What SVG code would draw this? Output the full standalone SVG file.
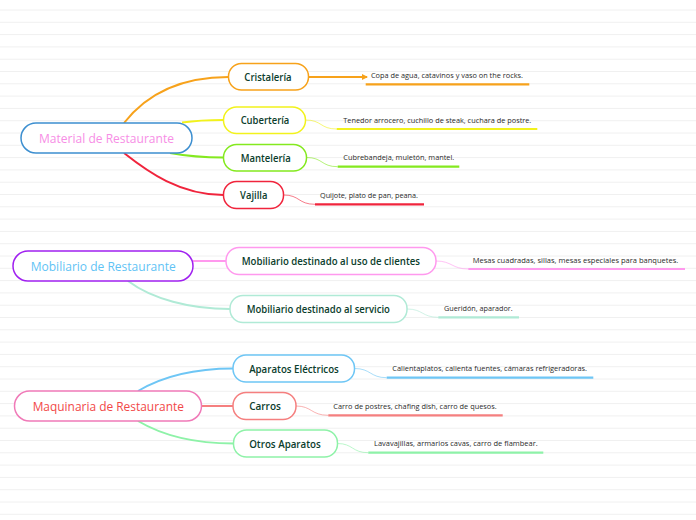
<svg xmlns="http://www.w3.org/2000/svg" width="696" height="520" viewBox="0 0 696 520">
<style>
.bg{stroke:#f0f0f0;stroke-width:1;fill:none}
.main{fill:#fff;stroke-width:1.5}
.sub{fill:#fff;stroke-width:1.5}
.mt{font-family:"Open Sans","Noto Sans",sans-serif;font-size:13px;font-weight:500;text-anchor:middle}
.st{font-family:"Open Sans","Noto Sans",sans-serif;font-size:11px;font-weight:600;text-anchor:middle;fill:#0b3d2c}
.dt{font-family:"Open Sans","Noto Sans",sans-serif;font-size:7px;fill:#2a2a2a}
.c{fill:none;stroke-width:2}
.thin{fill:none;stroke-width:1;opacity:0.6}
.ul{fill:none;stroke-width:2.2}
</style>
<defs>
<marker id="arr" markerWidth="6" markerHeight="6" refX="5" refY="3" orient="auto" markerUnits="userSpaceOnUse">
<path d="M0,0 L6,3 L0,6 Z" fill="#f7a21b"/>
</marker>
</defs>
<rect width="696" height="520" fill="#fff"/>
<path class="bg" d="M0,10H696M0,22.3H696M0,34.6H696M0,46.9H696M0,59.2H696M0,71.5H696M0,83.8H696M0,96.1H696M0,108.4H696M0,120.7H696M0,133H696M0,145.3H696M0,157.6H696M0,169.9H696M0,182.2H696M0,194.5H696M0,206.8H696M0,219.1H696M0,231.4H696M0,243.7H696M0,256H696M0,268.3H696M0,280.6H696M0,292.9H696M0,305.2H696M0,317.5H696M0,329.8H696M0,342.1H696M0,354.4H696M0,366.7H696M0,379H696M0,391.3H696M0,403.6H696M0,415.9H696M0,428.2H696M0,440.5H696M0,452.8H696M0,465.1H696M0,477.4H696M0,489.7H696M0,502H696M0,514.3H696"/>
<g id="connectors">
<path class="c" stroke="#f7a21b" d="M124,123 Q160,77 228.5,77"/>
<path class="c" stroke="#f2f21c" d="M182,122.5 Q200,120 223.5,120"/>
<path class="c" stroke="#84e91f" d="M170,153 Q195,157.5 223.5,157.5"/>
<path class="c" stroke="#f0243c" d="M124,153 C148,172 180,195 223.5,195"/>
<path class="c" stroke="#f7a21b" d="M308.5,77 H367" marker-end="url(#arr)"/>
<path class="ul" stroke="#f7a21b" d="M365.7,84.3 H529.3"/>
<path class="thin" stroke="#f2f21c" d="M305.5,120 C322,120 320,129 336.7,129"/>
<path class="ul" stroke="#f2f21c" d="M336.7,129 H537.3"/>
<path class="thin" stroke="#84e91f" d="M306.5,157.5 C323,157.5 321,166.7 337.7,166.7"/>
<path class="ul" stroke="#84e91f" d="M337.7,166.7 H459.3"/>
<path class="thin" stroke="#f0243c" d="M283.5,195 C300,195 298,204.3 315,204.3"/>
<path class="ul" stroke="#f0243c" d="M315,204.3 H424"/>
<path class="c" stroke="#ff99ee" d="M193,261 H226"/>
<path class="c" stroke="#b0ead6" d="M128,281 C152,299 190,309 230,309"/>
<path class="thin" stroke="#ff99ee" d="M436,261 C452,261 452,269 468.3,269"/>
<path class="ul" stroke="#ff99ee" d="M468.3,269 H685"/>
<path class="thin" stroke="#b0ead6" d="M407,309 C423,309 422,317.3 438.3,317.3"/>
<path class="ul" stroke="#b0ead6" d="M438.3,317.3 H519"/>
<path class="c" stroke="#6ec6f5" d="M138,391 C165,375 195,368.5 233,368.5"/>
<path class="c" stroke="#f57f7f" d="M201.5,406 H233"/>
<path class="c" stroke="#8ef2a8" d="M138,421 C165,437 195,443.5 233.5,443.5"/>
<path class="thin" stroke="#6ec6f5" d="M354.5,368.5 C371,368.5 370,377.7 386.7,377.7"/>
<path class="ul" stroke="#6ec6f5" d="M386.7,377.7 H593.3"/>
<path class="thin" stroke="#f57f7f" d="M296,406 C312,406 311,415.3 328.3,415.3"/>
<path class="ul" stroke="#f57f7f" d="M328.3,415.3 H502.7"/>
<path class="thin" stroke="#8ef2a8" d="M337.5,443.5 C353,443.5 352,452.7 368.3,452.7"/>
<path class="ul" stroke="#8ef2a8" d="M368.3,452.7 H543.3"/>
</g>
<g id="material">
<rect class="main" x="21" y="123" width="171" height="30" rx="15" stroke="#3d8fd0"/>
<text class="mt" x="106.5" y="142.8" fill="#f78ee6" textLength="135" lengthAdjust="spacingAndGlyphs">Material de Restaurante</text>
</g>
<g id="cristaleria">
<rect class="sub" x="228.5" y="63.5" width="80" height="26.5" rx="13" stroke="#f7a21b"/>
<text class="st" x="268" y="81" textLength="47.3" lengthAdjust="spacingAndGlyphs">Cristalería</text>
</g>
<g id="cuberteria">
<rect class="sub" x="223.5" y="107" width="82" height="26.5" rx="13" stroke="#f2f21c"/>
<text class="st" x="265" y="124" textLength="48.7" lengthAdjust="spacingAndGlyphs">Cubertería</text>
</g>
<g id="manteleria">
<rect class="sub" x="223.5" y="144.5" width="83" height="26.5" rx="13" stroke="#84e91f"/>
<text class="st" x="265.7" y="161.5" textLength="50" lengthAdjust="spacingAndGlyphs">Mantelería</text>
</g>
<g id="vajilla">
<rect class="sub" x="223.5" y="181.5" width="60" height="27" rx="13" stroke="#f0243c"/>
<text class="st" x="253.7" y="199" fill="#111" textLength="27.3" lengthAdjust="spacingAndGlyphs">Vajilla</text>
</g>
<g id="d-cristaleria"><text class="dt" x="371" y="78" textLength="152" lengthAdjust="spacingAndGlyphs">Copa de agua, catavinos y vaso on the rocks.</text></g>
<g id="d-cuberteria"><text class="dt" x="343.3" y="123" textLength="188" lengthAdjust="spacingAndGlyphs">Tenedor arrocero, cuchillo de steak, cuchara de postre.</text></g>
<g id="d-manteleria"><text class="dt" x="343.3" y="160.3" textLength="111" lengthAdjust="spacingAndGlyphs">Cubrebandeja, muletón, mantel.</text></g>
<g id="d-vajilla"><text class="dt" x="320" y="198" textLength="98" lengthAdjust="spacingAndGlyphs">Quijote, plato de pan, peana.</text></g>
<g id="mobiliario">
<rect class="main" x="13" y="251" width="180" height="30" rx="15" stroke="#a020f0"/>
<text class="mt" x="103.2" y="270.5" fill="#5fc3f5" textLength="145" lengthAdjust="spacingAndGlyphs">Mobiliario de Restaurante</text>
</g>
<g id="clientes">
<rect class="sub" x="226" y="247.5" width="210" height="27" rx="13" stroke="#ff99ee"/>
<text class="st" x="330.8" y="265" textLength="178.3" lengthAdjust="spacingAndGlyphs">Mobiliario destinado al uso de clientes</text>
</g>
<g id="servicio">
<rect class="sub" x="230" y="295.5" width="177" height="27" rx="13" stroke="#b0ead6"/>
<text class="st" x="318.3" y="313" textLength="143.3" lengthAdjust="spacingAndGlyphs">Mobiliario destinado al servicio</text>
</g>
<g id="d-clientes"><text class="dt" x="472.7" y="262.5" textLength="205.6" lengthAdjust="spacingAndGlyphs">Mesas cuadradas, sillas, mesas especiales para banquetes.</text></g>
<g id="d-servicio"><text class="dt" x="444" y="311" textLength="68.7" lengthAdjust="spacingAndGlyphs">Gueridón, aparador.</text></g>
<g id="maquinaria">
<rect class="main" x="14.5" y="391" width="187" height="30" rx="15" stroke="#f07ab8"/>
<text class="mt" x="108.3" y="410.5" fill="#f24848" textLength="151.3" lengthAdjust="spacingAndGlyphs">Maquinaria de Restaurante</text>
</g>
<g id="electricos">
<rect class="sub" x="233" y="355" width="121.5" height="27" rx="13" stroke="#6ec6f5"/>
<text class="st" x="294" y="372.5" textLength="89.7" lengthAdjust="spacingAndGlyphs">Aparatos Eléctricos</text>
</g>
<g id="carros">
<rect class="sub" x="233" y="392.5" width="63" height="27" rx="13" stroke="#f57f7f"/>
<text class="st" x="265" y="410" textLength="31.7" lengthAdjust="spacingAndGlyphs">Carros</text>
</g>
<g id="otros">
<rect class="sub" x="233.5" y="430" width="104" height="27" rx="13" stroke="#8ef2a8"/>
<text class="st" x="285" y="447.5" textLength="71.7" lengthAdjust="spacingAndGlyphs">Otros Aparatos</text>
</g>
<g id="d-electricos"><text class="dt" x="392.3" y="371.3" textLength="194.7" lengthAdjust="spacingAndGlyphs">Calientaplatos, calienta fuentes, cámaras refrigeradoras.</text></g>
<g id="d-carros"><text class="dt" x="333.3" y="408.5" textLength="163.4" lengthAdjust="spacingAndGlyphs">Carro de postres, chafing dish, carro de quesos.</text></g>
<g id="d-otros"><text class="dt" x="374" y="446" textLength="163.7" lengthAdjust="spacingAndGlyphs">Lavavajillas, armarios cavas, carro de flambear.</text></g>
</svg>
